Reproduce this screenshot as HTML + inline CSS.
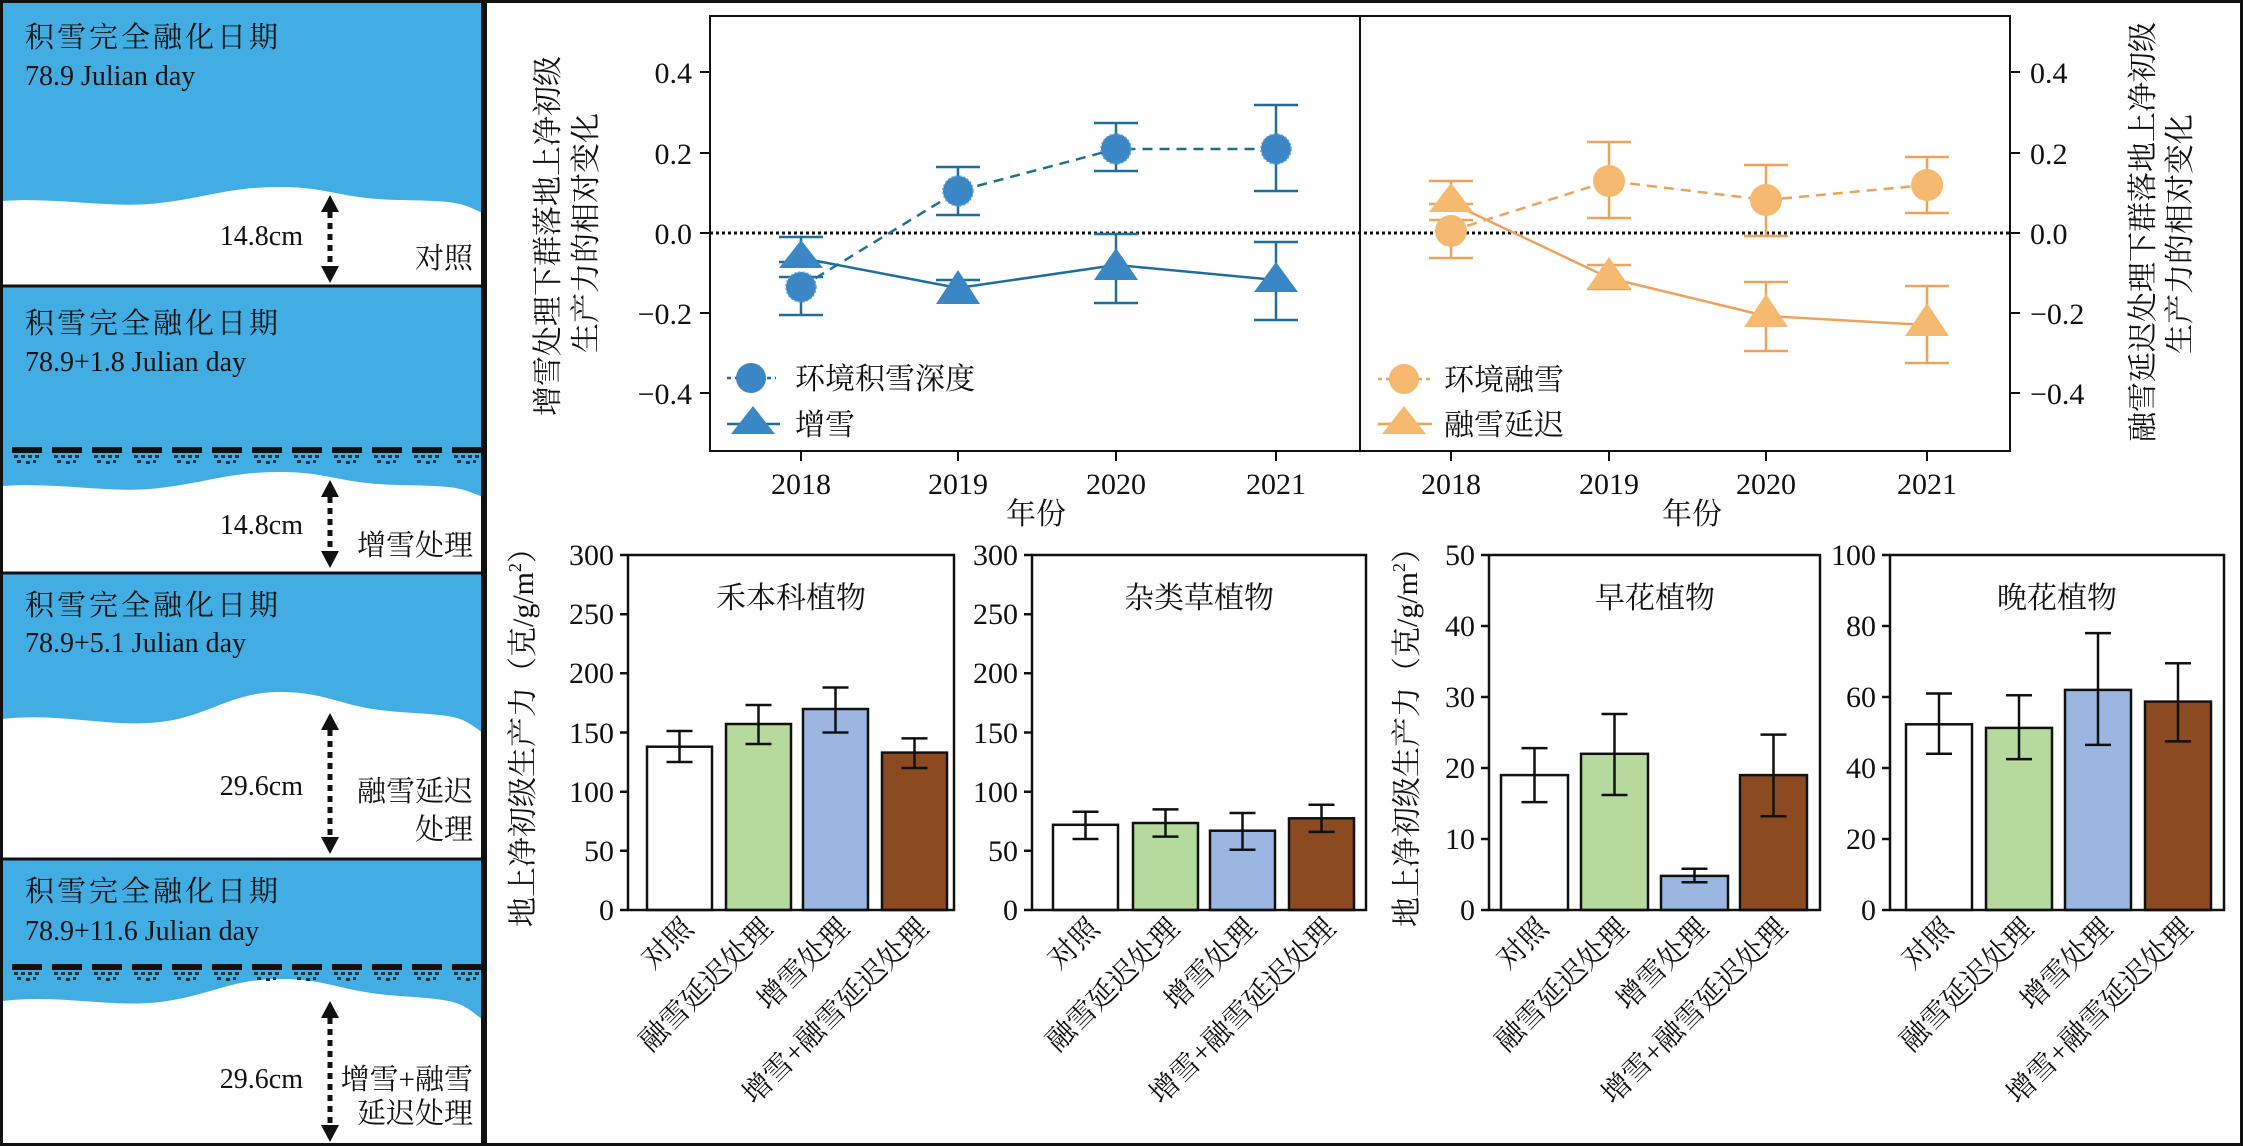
<!DOCTYPE html>
<html><head><meta charset="utf-8"><style>
html,body{margin:0;padding:0;background:#fff;}
svg{display:block;}
svg text{font-family:"Liberation Serif","Times New Roman","Noto Serif CJK SC","Noto Sans CJK SC",serif;fill:#111;}
</style></head><body>
<svg width="2244" height="1146" viewBox="0 0 2244 1146" xmlns="http://www.w3.org/2000/svg" font-family="'Liberation Serif', 'Noto Serif CJK SC', 'Noto Sans CJK SC', serif">
<defs>
<g id="dashrow">
<rect x="0" y="-3" width="30" height="6" fill="#111"/>
<rect x="2" y="5" width="4" height="3" fill="#233"/><rect x="9" y="5" width="4" height="3" fill="#233"/><rect x="16" y="5" width="4" height="3" fill="#233"/><rect x="23" y="5" width="4" height="3" fill="#233"/>
<rect x="5" y="10" width="4" height="3" fill="#233"/><rect x="14" y="11" width="4" height="3" fill="#233"/><rect x="21" y="10" width="3" height="3" fill="#233"/>
</g>
</defs>
<g>
<rect x="0" y="0" width="484" height="1146" fill="#41ade3"/>
<path d="M2,201 C60,197 110,209 160,203 S230,187 280,187 S340,199 400,200 S460,203 483,213 L483,286 L2,286 Z" fill="#fff"/>
<path d="M2,486 C60,482 110,494 160,488 S230,472 280,472 S340,484 400,485 S460,488 483,497 L483,573 L2,573 Z" fill="#fff"/>
<path d="M2,719 C60,712 110,728 160,722 S230,692 280,692 S340,708 400,712 S460,716 483,733 L483,859 L2,859 Z" fill="#fff"/>
<path d="M2,1001 C60,994 110,1008 160,1002 S230,979 280,979 S340,992 400,996 S460,1002 483,1020 L483,1146 L2,1146 Z" fill="#fff"/>
<g transform="translate(12,450)"><use href="#dashrow"/><use href="#dashrow" x="40"/><use href="#dashrow" x="80"/><use href="#dashrow" x="120"/><use href="#dashrow" x="160"/><use href="#dashrow" x="200"/><use href="#dashrow" x="240"/><use href="#dashrow" x="280"/><use href="#dashrow" x="320"/><use href="#dashrow" x="360"/><use href="#dashrow" x="400"/><use href="#dashrow" x="440"/></g>
<g transform="translate(12,967)"><use href="#dashrow"/><use href="#dashrow" x="40"/><use href="#dashrow" x="80"/><use href="#dashrow" x="120"/><use href="#dashrow" x="160"/><use href="#dashrow" x="200"/><use href="#dashrow" x="240"/><use href="#dashrow" x="280"/><use href="#dashrow" x="320"/><use href="#dashrow" x="360"/><use href="#dashrow" x="400"/><use href="#dashrow" x="440"/></g>
<g fill="#111" stroke="none">
<polygon points="330,195 321,212 339,212"/><polygon points="330,283 321,266 339,266"/>
<line x1="330" y1="212" x2="330" y2="266" stroke="#111" stroke-width="5" stroke-dasharray="6,5"/>
<polygon points="330,480 321,497 339,497"/><polygon points="330,568 321,551 339,551"/>
<line x1="330" y1="497" x2="330" y2="551" stroke="#111" stroke-width="5" stroke-dasharray="6,5"/>
<polygon points="330,713 321,730 339,730"/><polygon points="330,854 321,837 339,837"/>
<line x1="330" y1="730" x2="330" y2="837" stroke="#111" stroke-width="5" stroke-dasharray="6,5"/>
<polygon points="330,1001 321,1018 339,1018"/><polygon points="330,1142 321,1125 339,1125"/>
<line x1="330" y1="1018" x2="330" y2="1125" stroke="#111" stroke-width="5" stroke-dasharray="6,5"/>
</g>
<g font-size="29">
<text x="25" y="47" letter-spacing="3">积雪完全融化日期</text>
<text x="25" y="85" font-size="28">78.9 Julian day</text>
<text x="303" y="245" text-anchor="end" font-size="28">14.8cm</text>
<text x="473" y="268" text-anchor="end">对照</text>
<text x="25" y="333" letter-spacing="3">积雪完全融化日期</text>
<text x="25" y="371" font-size="28">78.9+1.8 Julian day</text>
<text x="303" y="534" text-anchor="end" font-size="28">14.8cm</text>
<text x="473" y="555" text-anchor="end">增雪处理</text>
<text x="25" y="615" letter-spacing="3">积雪完全融化日期</text>
<text x="25" y="652" font-size="28">78.9+5.1 Julian day</text>
<text x="303" y="795" text-anchor="end" font-size="28">29.6cm</text>
<text x="473" y="801" text-anchor="end">融雪延迟</text>
<text x="473" y="839" text-anchor="end">处理</text>
<text x="25" y="901" letter-spacing="3">积雪完全融化日期</text>
<text x="25" y="940" font-size="28">78.9+11.6 Julian day</text>
<text x="303" y="1088" text-anchor="end" font-size="28">29.6cm</text>
<text x="473" y="1089" text-anchor="end">增雪+融雪</text>
<text x="473" y="1123" text-anchor="end">延迟处理</text>
</g>
<g stroke="#111" stroke-width="3" fill="none">
<rect x="1.5" y="1.5" width="481" height="1143"/>
<line x1="0" y1="286" x2="484" y2="286"/>
<line x1="0" y1="573" x2="484" y2="573"/>
<line x1="0" y1="859" x2="484" y2="859"/>
</g>
</g>
<rect x="485.5" y="1.5" width="1756" height="1143" fill="none" stroke="#111" stroke-width="3"/>

<g stroke="#111" stroke-width="2" fill="none">
<rect x="710" y="16" width="1300" height="435"/>
<line x1="1360" y1="16" x2="1360" y2="451"/>
<line x1="700" y1="72" x2="710" y2="72"/><line x1="700" y1="153" x2="710" y2="153"/><line x1="700" y1="233" x2="710" y2="233"/><line x1="700" y1="313" x2="710" y2="313"/><line x1="700" y1="393" x2="710" y2="393"/>
<line x1="2010" y1="72" x2="2020" y2="72"/><line x1="2010" y1="153" x2="2020" y2="153"/><line x1="2010" y1="233" x2="2020" y2="233"/><line x1="2010" y1="313" x2="2020" y2="313"/><line x1="2010" y1="393" x2="2020" y2="393"/>
<line x1="801" y1="451" x2="801" y2="461"/><line x1="958" y1="451" x2="958" y2="461"/><line x1="1116" y1="451" x2="1116" y2="461"/><line x1="1276" y1="451" x2="1276" y2="461"/>
<line x1="1451" y1="451" x2="1451" y2="461"/><line x1="1609" y1="451" x2="1609" y2="461"/><line x1="1766" y1="451" x2="1766" y2="461"/><line x1="1927" y1="451" x2="1927" y2="461"/>
</g>
<line x1="710" y1="233" x2="2010" y2="233" stroke="#111" stroke-width="3" stroke-dasharray="3,3"/>
<g font-size="30">
<text x="692" y="83" text-anchor="end">0.4</text><text x="692" y="164" text-anchor="end">0.2</text><text x="692" y="244" text-anchor="end">0.0</text><text x="692" y="324" text-anchor="end">−0.2</text><text x="692" y="404" text-anchor="end">−0.4</text>
<text x="2030" y="83">0.4</text><text x="2030" y="164">0.2</text><text x="2030" y="244">0.0</text><text x="2030" y="324">−0.2</text><text x="2030" y="404">−0.4</text>
<g text-anchor="middle">
<text x="801" y="494">2018</text><text x="958" y="494">2019</text><text x="1116" y="494">2020</text><text x="1276" y="494">2021</text>
<text x="1451" y="494">2018</text><text x="1609" y="494">2019</text><text x="1766" y="494">2020</text><text x="1927" y="494">2021</text>
<text x="1036" y="524">年份</text><text x="1692" y="524">年份</text>
<text transform="translate(558,236) rotate(-90)">增雪处理下群落地上净初级</text>
<text transform="translate(596,233) rotate(-90)">生产力的相对变化</text>
<text transform="translate(2153,232) rotate(-90)">融雪延迟处理下群落地上净初级</text>
<text transform="translate(2190,234) rotate(-90)">生产力的相对变化</text>
</g>
</g>
<g stroke="#1f6f9a" stroke-width="2.5" fill="none">
<polyline points="801,287 958,191 1116,149 1276,149" stroke-dasharray="10,7"/>
<polyline points="801,258 958,288 1116,265 1276,280"/>
<line x1="801" y1="277" x2="801" y2="315"/><line x1="779" y1="277" x2="823" y2="277"/><line x1="779" y1="315" x2="823" y2="315"/>
<line x1="958" y1="167" x2="958" y2="215"/><line x1="936" y1="167" x2="980" y2="167"/><line x1="936" y1="215" x2="980" y2="215"/>
<line x1="1116" y1="123" x2="1116" y2="171"/><line x1="1094" y1="123" x2="1138" y2="123"/><line x1="1094" y1="171" x2="1138" y2="171"/>
<line x1="1276" y1="105" x2="1276" y2="191"/><line x1="1254" y1="105" x2="1298" y2="105"/><line x1="1254" y1="191" x2="1298" y2="191"/>
<line x1="801" y1="237" x2="801" y2="262"/><line x1="779" y1="237" x2="823" y2="237"/><line x1="779" y1="262" x2="823" y2="262"/>
<line x1="936" y1="280" x2="980" y2="280"/>
<line x1="1116" y1="234" x2="1116" y2="303"/><line x1="1094" y1="234" x2="1138" y2="234"/><line x1="1094" y1="303" x2="1138" y2="303"/>
<line x1="1276" y1="242" x2="1276" y2="320"/><line x1="1254" y1="242" x2="1298" y2="242"/><line x1="1254" y1="320" x2="1298" y2="320"/>
</g>
<g fill="#3b86c4" stroke="#5d9fd3" stroke-width="1.5" stroke-dasharray="2,2">
<circle cx="801" cy="287" r="15"/><circle cx="958" cy="191" r="15"/><circle cx="1116" cy="149" r="15"/><circle cx="1276" cy="149" r="15"/>
</g>
<g fill="#3b86c4">
<polygon points="801,240 779,268 823,268"/><polygon points="958,270 936,304 980,304"/><polygon points="1116,248 1094,280 1138,280"/><polygon points="1276,262 1254,292 1298,292"/>
</g>
<line x1="727" y1="378" x2="776" y2="378" stroke="#1f6f9a" stroke-width="2.5" stroke-dasharray="4,4"/>
<circle cx="751" cy="378" r="15" fill="#3b86c4"/>
<line x1="727" y1="424" x2="780" y2="424" stroke="#1f6f9a" stroke-width="2.5"/>
<polygon points="753,406 731,434 775,434" fill="#3b86c4"/>
<text x="795" y="389" font-size="30">环境积雪深度</text>
<text x="795" y="435" font-size="30">增雪</text>
<g stroke="#eea35a" stroke-width="2.5" fill="none">
<polyline points="1451,231 1609,181 1766,200 1927,185" stroke-dasharray="10,7"/>
<polyline points="1451,203 1609,278 1766,316 1927,325"/>
<line x1="1451" y1="220" x2="1451" y2="258"/><line x1="1429" y1="220" x2="1473" y2="220"/><line x1="1429" y1="258" x2="1473" y2="258"/>
<line x1="1609" y1="142" x2="1609" y2="218"/><line x1="1587" y1="142" x2="1631" y2="142"/><line x1="1587" y1="218" x2="1631" y2="218"/>
<line x1="1766" y1="165" x2="1766" y2="236"/><line x1="1744" y1="165" x2="1788" y2="165"/><line x1="1744" y1="236" x2="1788" y2="236"/>
<line x1="1927" y1="157" x2="1927" y2="213"/><line x1="1905" y1="157" x2="1949" y2="157"/><line x1="1905" y1="213" x2="1949" y2="213"/>
<line x1="1451" y1="181" x2="1451" y2="204"/><line x1="1429" y1="181" x2="1473" y2="181"/><line x1="1429" y1="204" x2="1473" y2="204"/>
<line x1="1587" y1="265" x2="1631" y2="265"/><line x1="1587" y1="289" x2="1631" y2="289"/>
<line x1="1766" y1="282" x2="1766" y2="351"/><line x1="1744" y1="282" x2="1788" y2="282"/><line x1="1744" y1="351" x2="1788" y2="351"/>
<line x1="1927" y1="286" x2="1927" y2="363"/><line x1="1905" y1="286" x2="1949" y2="286"/><line x1="1905" y1="363" x2="1949" y2="363"/>
</g>
<g fill="#f5b96f">
<circle cx="1451" cy="231" r="16"/><circle cx="1609" cy="181" r="16"/><circle cx="1766" cy="200" r="16"/><circle cx="1927" cy="185" r="16"/>
<polygon points="1451,183 1429,212 1473,212"/><polygon points="1609,257 1587,289 1631,289"/><polygon points="1766,294 1744,327 1788,327"/><polygon points="1927,303 1905,336 1949,336"/>
</g>
<line x1="1378" y1="379" x2="1430" y2="379" stroke="#eea35a" stroke-width="2.5" stroke-dasharray="4,4"/>
<circle cx="1404" cy="379" r="15" fill="#f5b96f"/>
<line x1="1378" y1="424" x2="1432" y2="424" stroke="#eea35a" stroke-width="2.5"/>
<polygon points="1404,406 1382,434 1426,434" fill="#f5b96f"/>
<text x="1444" y="390" font-size="30">环境融雪</text>
<text x="1444" y="435" font-size="30">融雪延迟</text>

<g stroke="#111" stroke-width="2.5">
<rect x="647" y="746.7" width="65" height="163.3" fill="#fff"/>
<rect x="726" y="724" width="65" height="186" fill="#b6da9d"/>
<rect x="803" y="709" width="65" height="201" fill="#9bb6e0"/>
<rect x="882" y="752.6" width="65" height="157.4" fill="#8c4a21"/>
<rect x="1053" y="824.8" width="65" height="85.2" fill="#fff"/>
<rect x="1133" y="823" width="65" height="87" fill="#b6da9d"/>
<rect x="1210" y="830.7" width="65" height="79.3" fill="#9bb6e0"/>
<rect x="1289" y="818.3" width="65" height="91.7" fill="#8c4a21"/>
<rect x="1501" y="775.1" width="67" height="134.9" fill="#fff"/>
<rect x="1581" y="753.8" width="67" height="156.2" fill="#b6da9d"/>
<rect x="1661" y="875.9" width="67" height="34.1" fill="#9bb6e0"/>
<rect x="1740" y="775.1" width="67" height="134.9" fill="#8c4a21"/>
<rect x="1906" y="724.3" width="66" height="185.7" fill="#fff"/>
<rect x="1986" y="727.9" width="66" height="182.1" fill="#b6da9d"/>
<rect x="2065" y="689.9" width="66" height="220.1" fill="#9bb6e0"/>
<rect x="2145" y="701.6" width="66" height="208.4" fill="#8c4a21"/>
</g>
<g stroke="#111" stroke-width="2.5" fill="none">
<path d="M679.5,731V762M666.5,731H692.5M666.5,762H692.5"/>
<path d="M758.5,705V744M745.5,705H771.5M745.5,744H771.5"/>
<path d="M835.5,687.5V732.5M822.5,687.5H848.5M822.5,732.5H848.5"/>
<path d="M914.5,738.4V768M901.5,738.4H927.5M901.5,768H927.5"/>
<path d="M1085.5,811.8V839M1072.5,811.8H1098.5M1072.5,839H1098.5"/>
<path d="M1165.5,809.4V836.6M1152.5,809.4H1178.5M1152.5,836.6H1178.5"/>
<path d="M1242.5,813V849.7M1229.5,813H1255.5M1229.5,849.7H1255.5"/>
<path d="M1321.5,804.7V831.9M1308.5,804.7H1334.5M1308.5,831.9H1334.5"/>
<path d="M1534.5,748.1V802.1M1521.5,748.1H1547.5M1521.5,802.1H1547.5"/>
<path d="M1614.5,714V795M1601.5,714H1627.5M1601.5,795H1627.5"/>
<path d="M1694.5,868.8V882.3M1681.5,868.8H1707.5M1681.5,882.3H1707.5"/>
<path d="M1773.5,734.6V816.3M1760.5,734.6H1786.5M1760.5,816.3H1786.5"/>
<path d="M1939,693.5V753.8M1926,693.5H1952M1926,753.8H1952"/>
<path d="M2019,695.2V759.1M2006,695.2H2032M2006,759.1H2032"/>
<path d="M2098,633.1V744.9M2085,633.1H2111M2085,744.9H2111"/>
<path d="M2178,663.3V741.4M2165,663.3H2191M2165,741.4H2191"/>
<rect x="628" y="555" width="326" height="355"/>
<rect x="1032" y="555" width="334" height="355"/>
<rect x="1489" y="555" width="331" height="355"/>
<rect x="1890" y="555" width="334" height="355"/>
<path d="M620,910H628M620,850.8H628M620,791.7H628M620,732.5H628M620,673.3H628M620,614.2H628M620,555H628"/>
<path d="M1024,910H1032M1024,850.8H1032M1024,791.7H1032M1024,732.5H1032M1024,673.3H1032M1024,614.2H1032M1024,555H1032"/>
<path d="M1481,910H1489M1481,839H1489M1481,768H1489M1481,697H1489M1481,626H1489M1481,555H1489"/>
<path d="M1882,910H1890M1882,839H1890M1882,768H1890M1882,697H1890M1882,626H1890M1882,555H1890"/>
</g>
<g font-size="30" text-anchor="end">
<text x="614" y="920">0</text><text x="614" y="861">50</text><text x="614" y="802">100</text><text x="614" y="743">150</text><text x="614" y="683">200</text><text x="614" y="624">250</text><text x="614" y="565">300</text>
<text x="1018" y="920">0</text><text x="1018" y="861">50</text><text x="1018" y="802">100</text><text x="1018" y="743">150</text><text x="1018" y="683">200</text><text x="1018" y="624">250</text><text x="1018" y="565">300</text>
<text x="1475" y="920">0</text><text x="1475" y="849">10</text><text x="1475" y="778">20</text><text x="1475" y="707">30</text><text x="1475" y="636">40</text><text x="1475" y="565">50</text>
<text x="1876" y="920">0</text><text x="1876" y="849">20</text><text x="1876" y="778">40</text><text x="1876" y="707">60</text><text x="1876" y="636">80</text><text x="1876" y="565">100</text>
</g>
<g font-size="30" text-anchor="middle">
<text x="791" y="608">禾本科植物</text>
<text x="1199" y="608">杂类草植物</text>
<text x="1655" y="608">早花植物</text>
<text x="2057" y="608">晚花植物</text>
<text transform="translate(533,730) rotate(-90)">地上净初级生产力（克/g/m<tspan font-size="18" dy="-12">2</tspan><tspan dy="12">）</tspan></text>
<text transform="translate(1417,730) rotate(-90)">地上净初级生产力（克/g/m<tspan font-size="18" dy="-12">2</tspan><tspan dy="12">）</tspan></text>
</g>
<g font-size="29" text-anchor="end">
<text transform="translate(695,930) rotate(-45)">对照</text>
<text transform="translate(774,930) rotate(-45)">融雪延迟处理</text>
<text transform="translate(851,930) rotate(-45)">增雪处理</text>
<text transform="translate(930,930) rotate(-45)">增雪+融雪延迟处理</text>
<text transform="translate(1101,930) rotate(-45)">对照</text>
<text transform="translate(1181,930) rotate(-45)">融雪延迟处理</text>
<text transform="translate(1258,930) rotate(-45)">增雪处理</text>
<text transform="translate(1337,930) rotate(-45)">增雪+融雪延迟处理</text>
<text transform="translate(1550,930) rotate(-45)">对照</text>
<text transform="translate(1630,930) rotate(-45)">融雪延迟处理</text>
<text transform="translate(1710,930) rotate(-45)">增雪处理</text>
<text transform="translate(1789,930) rotate(-45)">增雪+融雪延迟处理</text>
<text transform="translate(1955,930) rotate(-45)">对照</text>
<text transform="translate(2035,930) rotate(-45)">融雪延迟处理</text>
<text transform="translate(2114,930) rotate(-45)">增雪处理</text>
<text transform="translate(2194,930) rotate(-45)">增雪+融雪延迟处理</text>
</g>
</svg>
</body></html>
